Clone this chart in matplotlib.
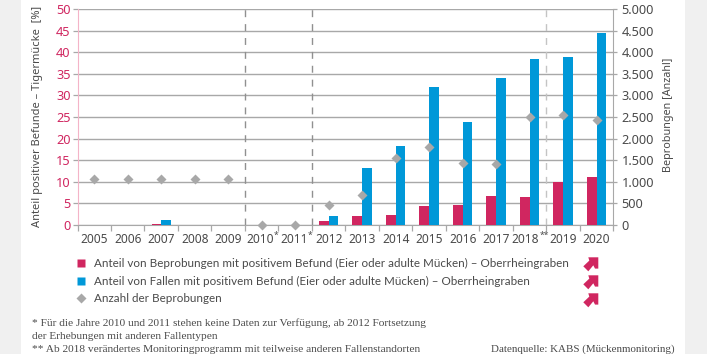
import matplotlib
matplotlib.use("Agg")
import matplotlib.pyplot as plt
from matplotlib.patches import Rectangle, Polygon
from matplotlib.lines import Line2D
from matplotlib.transforms import Affine2D, ScaledTranslation
import numpy as np

years = ["2005", "2006", "2007", "2008", "2009", "2010", "2011", "2012", "2013", "2014",
         "2015", "2016", "2017", "2018", "2019", "2020"]
year_marks = ["", "", "", "", "", "*", "*", "", "", "", "", "", "", "**", "", ""]
share_samples = [0, 0, 0.1, 0, 0, 0, 0, 0.9, 2.1, 2.2, 4.3, 4.6, 6.7, 6.5, 10.0, 11.0]
share_traps = [0, 0, 1.0, 0, 0, 0, 0, 2.0, 13.2, 18.3, 32.0, 23.9, 34.0, 38.5, 39.0, 44.5]
n_samples = [1070, 1070, 1070, 1070, 1070, 0, 0, 450, 690, 1550, 1800, 1430, 1420, 2510, 2540, 2420]
left_ticks = list(range(0, 51, 5))
right_labels = ["0", "500", "1.000", "1.500", "2.000", "2.500", "3.000", "3.500", "4.000", "4.500", "5.000"]

PINK = "#d02660"
BLUE = "#0098d8"
GREY = "#a8a8a8"
TEXT = "#4a4a4a"
SANS = "Noto Sans"
SERIF = "Liberation Serif"
W, H = 707, 354

fig = plt.figure(figsize=(W / 100, H / 100), dpi=100, facecolor="white")
px = Affine2D().scale(1 / W, -1 / H).translate(0, 1) + fig.transFigure

for x0, x1 in [(0, 21), (685, 707)]:
    fig.add_artist(Rectangle((x0, 0), x1 - x0, H, transform=px, fc="#f0f0f0", ec="none"))

ax = fig.add_axes([77.5 / W, 1 - 224.7 / H, 535.8 / W, 215.4 / H])
ax.set_xlim(0, 16)
ax.set_ylim(0, 50)
x = np.arange(16) + 0.5
bw = 0.29
ax.bar(x - bw / 2, share_samples, bw, color=PINK, zorder=3)
ax.bar(x + bw / 2, share_traps, bw, color=BLUE, zorder=3)

ax.set_yticks(left_ticks)
ax.tick_params(axis="y", colors=GREY, length=3.5, width=0.9, pad=1.5, labelcolor=PINK, labelsize=9.2)
ax.grid(axis="y", color=GREY, lw=1.0, zorder=1)
ax.set_axisbelow(True)
ax.set_xticks(np.arange(17))
ax.set_xticklabels([])
ax.set_xticks(x, minor=True)
ax.set_xticklabels(years, minor=True, fontsize=8.6, color=TEXT, family=SANS)
ax.tick_params(axis="x", which="major", length=4, width=0.9, color=GREY)
ax.tick_params(axis="x", which="minor", length=0, pad=6)
for lab, xi, mark in zip(ax.get_xticklabels(minor=True), x, year_marks):
    if mark:
        shift = 1.5 if len(mark) == 1 else 4.2
        lab.set_transform(lab.get_transform() + ScaledTranslation(-shift / 100, 0, fig.dpi_scale_trans))
        ax.annotate(mark, xy=(xi, 0), xycoords=("data", "axes fraction"),
                    xytext=((13.8 - shift) * 0.72, -4.8), textcoords="offset points",
                    ha="left", va="top", family=SANS, fontsize=6.2, color=TEXT, annotation_clip=False)
for lab in ax.get_yticklabels():
    lab.set_family(SANS)
ax.spines["top"].set_visible(False)
ax.spines["right"].set_visible(False)
ax.spines["left"].set_color("#f4b4c8")
ax.spines["bottom"].set_color(GREY)
for pos, c in [(5, "#909090"), (7, "#909090"), (14, "#c4c4c4")]:
    ax.axvline(pos, color=c, lw=1.0, ls=(0, (5, 5)), zorder=2)

ax2 = ax.twinx()
ax2.set_ylim(0, 5000)
ax2.set_yticks(np.arange(0, 5001, 500))
ax2.set_yticklabels(right_labels, family=SANS, fontsize=9.2, color=TEXT)
ax2.tick_params(axis="y", color=GREY, length=3, width=0.9, pad=3)
for s in ["top", "left", "bottom"]:
    ax2.spines[s].set_visible(False)
ax2.spines["right"].set_color(GREY)
ax2.plot(x, n_samples, ls="none", marker="D", ms=5, color=GREY, mec="none", zorder=5, clip_on=False)

fig.text(37.5 / W, 1 - 116 / H, "Anteil positiver Befunde – Tigermücke  [%]", rotation=90,
         ha="center", va="center", family=SANS, fontsize=8.0, color=TEXT)
fig.text(669 / W, 1 - 115 / H, "Beprobungen [Anzahl]", rotation=90,
         ha="center", va="center", family=SANS, fontsize=7.8, color=TEXT)

handles = [
    Line2D([], [], ls="none", marker="s", ms=6.4, color=PINK, mec="none"),
    Line2D([], [], ls="none", marker="s", ms=6.4, color=BLUE, mec="none"),
    Line2D([], [], ls="none", marker="D", ms=4.6, color=GREY, mec="none"),
]
labels = [
    "Anteil von Beprobungen mit positivem Befund (Eier oder adulte Mücken) – Oberrheingraben",
    "Anteil von Fallen mit positivem Befund (Eier oder adulte Mücken) – Oberrheingraben",
    "Anzahl der Beprobungen",
]
fig.legend(handles, labels, loc="upper left", bbox_to_anchor=(64.5 / W, 1 - 253.5 / H), frameon=False,
           prop={"family": "Lato", "size": 8.42}, labelcolor=TEXT, labelspacing=0.56,
           handletextpad=0.15, handlelength=2.0, borderpad=0.4, borderaxespad=0)

arrow = np.array([[5, 0], [15, 0], [15, 11.3], [11.7, 11.3], [10, 8], [5, 14], [0, 9], [6, 3.3]])
for top in (257.3, 275.3, 293.3):
    fig.add_artist(Polygon(arrow + [583.3, top], closed=True, transform=px, fc=PINK, ec="none"))

notes = ["* Für die Jahre 2010 und 2011 stehen keine Daten zur Verfügung, ab 2012 Fortsetzung",
         "der Erhebungen mit anderen Fallentypen",
         "** Ab 2018 verändertes Monitoringprogramm mit teilweise anderen Fallenstandorten"]
for y, t in zip((323.5, 336.5, 349), notes):
    fig.text(32 / W, 1 - y / H, t, family=SERIF, fontsize=8.2, color=TEXT, ha="left", va="center")
fig.text(675 / W, 1 - 349 / H, "Datenquelle: KABS (Mückenmonitoring)", family=SERIF, fontsize=7.95,
         color=TEXT, ha="right", va="center")

fig.savefig("out.png", dpi=100)
